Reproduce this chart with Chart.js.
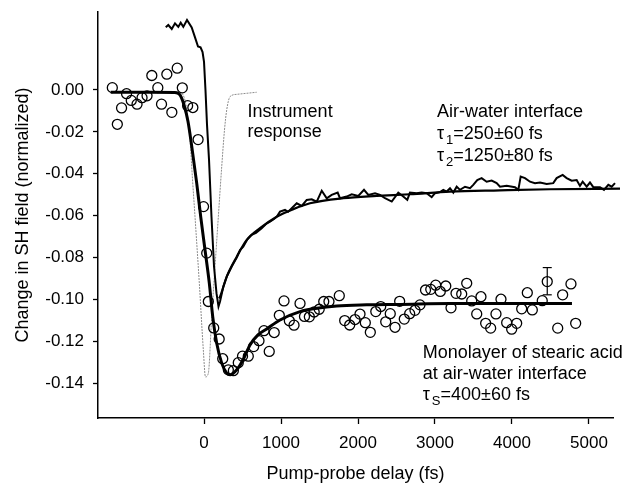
<!DOCTYPE html>
<html>
<head>
<meta charset="utf-8">
<script src="https://cdn.jsdelivr.net/npm/chart.js@4.4.1/dist/chart.umd.min.js"></script>
<style>
  html, body { margin: 0; padding: 0; background: #fff; }
</style>
</head>
<body>
<canvas id="canvas" width="632" height="483"></canvas>
<script>
// stearic acid monolayer, open circles (delay fs / normalized change)
const monoDelay = [-1191, -1126, -1071, -1006, -945, -870, -805, -740, -678, -600, -552, -483, -418, -348, -282, -213, -145, -77, -6, 35,
  56, 126, 197, 243, 316, 381, 445, 500, 575, 645, 714, 779, 847, 912, 978, 1039, 1108, 1169, 1247, 1305,
  1368, 1431, 1496, 1555, 1623, 1757, 1827, 1892, 1961, 2026, 2095, 2160, 2231, 2295, 2360, 2419, 2481, 2541, 2601, 2671,
  2740, 2805, 2877, 2945, 3009, 3069, 3140, 3208, 3273, 3347, 3412, 3477, 3542, 3597, 3658, 3723, 3792, 3857, 3931, 3996,
  4061, 4126, 4199, 4264, 4393, 4458, 4594, 4658, 4766, 4827];
const monoSignal = [0.0011, -0.0164, -0.0086, -0.0018, -0.0050, -0.0068, -0.0037, -0.0028, 0.0069, 0.0011, -0.0068, 0.0075, -0.0107, 0.0104, 0.0010, -0.0075, -0.0084, -0.0237, -0.0557, -0.0779,
  -0.1010, -0.1136, -0.1189, -0.1283, -0.1336, -0.1340, -0.1302, -0.1271, -0.1271, -0.1225, -0.1197, -0.1149, -0.1248, -0.1158, -0.1076, -0.1007, -0.1102, -0.1123, -0.1019, -0.1081,
  -0.1083, -0.1060, -0.1047, -0.1010, -0.1010, -0.0982, -0.1101, -0.1122, -0.1096, -0.1070, -0.1111, -0.1157, -0.1058, -0.1034, -0.1107, -0.1068, -0.1133, -0.1009, -0.1094, -0.1068,
  -0.1052, -0.1026, -0.0955, -0.0952, -0.0932, -0.0962, -0.0936, -0.1040, -0.0971, -0.0974, -0.0923, -0.1007, -0.1069, -0.0987, -0.1114, -0.1137, -0.1069, -0.0999, -0.1111, -0.1142,
  -0.1114, -0.1045, -0.0968, -0.1050, -0.1006, -0.0915, -0.1137, -0.0978, -0.0926, -0.1114];

// fit to the monolayer data (tau_S = 400 fs)
const monoFitDelay = [-1212, -701, -381, -312, -260, -208, -162, -95, -43, 13, 69, 113, 165, 230, 295, 338, 425, 506, 597, 701,
  814, 987, 1247, 1464, 1723, 2113, 2545, 3195, 3844, 4779];
const monoFitSignal = [-0.0011, -0.0011, -0.0012, -0.0024, -0.0072, -0.0151, -0.0263, -0.0445, -0.0605, -0.0764, -0.0923, -0.1082, -0.1209, -0.1304, -0.1352, -0.1360, -0.1336, -0.1289, -0.1217, -0.1169,
  -0.1141, -0.1098, -0.1058, -0.1042, -0.1031, -0.1026, -0.1024, -0.1020, -0.1020, -0.1020];

// error bar on one monolayer point
const errDelay = 4458;
const errLow = -0.0978;
const errHigh = -0.0848;

// neat air-water interface, measured trace
const waterDelay = [-497, -464, -419, -377, -334, -303, -269, -221, -160, -117, -78, -45, -19, 0, 19, 39, 65, 97, 130, 162,
  188, 208, 251, 299, 360, 425, 468, 510, 558, 619, 675, 749, 805, 857, 909, 944, 987, 1052, 1091, 1139,
  1204, 1269, 1334, 1399, 1464, 1529, 1594, 1658, 1736, 1766, 1853, 1918, 2004, 2078, 2134, 2221, 2286, 2351, 2438, 2523,
  2588, 2640, 2675, 2762, 2827, 2892, 2957, 3000, 3065, 3108, 3152, 3195, 3238, 3282, 3325, 3390, 3455, 3497, 3549, 3606,
  3671, 3736, 3801, 3844, 3931, 4039, 4082, 4113, 4169, 4234, 4299, 4364, 4451, 4536, 4580, 4658, 4710, 4775, 4840, 4883,
  4918, 4970, 5013, 5056, 5143, 5195, 5251, 5295, 5338, 5403];
const waterSignal = [0.0299, 0.0310, 0.0291, 0.0318, 0.0301, 0.0321, 0.0301, 0.0334, 0.0298, 0.0251, 0.0207, 0.0203, 0.0181, 0.0134, 0.0000, -0.0167, -0.0334, -0.0605, -0.0843, -0.0970,
  -0.1034, -0.1010, -0.0939, -0.0888, -0.0843, -0.0800, -0.0764, -0.0748, -0.0716, -0.0692, -0.0683, -0.0660, -0.0640, -0.0629, -0.0616, -0.0605, -0.0581, -0.0573, -0.0582, -0.0565,
  -0.0541, -0.0554, -0.0525, -0.0522, -0.0533, -0.0481, -0.0517, -0.0501, -0.0490, -0.0517, -0.0509, -0.0498, -0.0506, -0.0477, -0.0501, -0.0493, -0.0501, -0.0517, -0.0533, -0.0490,
  -0.0509, -0.0525, -0.0490, -0.0493, -0.0490, -0.0493, -0.0512, -0.0493, -0.0488, -0.0477, -0.0485, -0.0469, -0.0490, -0.0462, -0.0477, -0.0462, -0.0469, -0.0453, -0.0430, -0.0421,
  -0.0438, -0.0433, -0.0445, -0.0462, -0.0458, -0.0464, -0.0477, -0.0414, -0.0421, -0.0438, -0.0445, -0.0442, -0.0449, -0.0445, -0.0421, -0.0406, -0.0421, -0.0433, -0.0430, -0.0458,
  -0.0438, -0.0462, -0.0442, -0.0464, -0.0464, -0.0477, -0.0453, -0.0462, -0.0445, -0.0462];

// biexponential fit to the air-water trace
const waterFitDelay = [195, 208, 295, 425, 555, 727, 944, 1160, 1377, 1809, 2243, 2675, 3195, 3844, 4494, 5403];
const waterFitSignal = [-0.0995, -0.0987, -0.0891, -0.0796, -0.0716, -0.0660, -0.0605, -0.0569, -0.0541, -0.0517, -0.0506, -0.0498, -0.0485, -0.0479, -0.0474, -0.0471];

// instrument response (grey)
const irfDelay = [-400, -312, -234, -182, -149, -117, -61, -9, 19, 56, 100, 143, 186, 230, 266, 295, 338, 425, 555, 684];
const irfSignal = [-0.0010, -0.0012, -0.0072, -0.0239, -0.0430, -0.0605, -0.0923, -0.1241, -0.1370, -0.1352, -0.1082, -0.0843, -0.0605, -0.0366, -0.0191, -0.0095, -0.0032, -0.0021, -0.0016, -0.0011];

const xTicks = [0, 1000, 2000, 3000, 4000, 5000];
const yTicks = [-0.14, -0.12, -0.10, -0.08, -0.06, -0.04, -0.02, 0.00];

const pts = (xs, ys) => xs.map((x, i) => ({ x: x, y: ys[i] }));
const family = "'Liberation Sans', Arial, Helvetica, sans-serif";

// text labels, anchored in data units (left / baseline)
const notes = [
  { x: 566, y: -0.0127, parts: [["Instrument"]] },
  { x: 566, y: -0.0226, parts: [["response"]] },
  { x: 3026, y: -0.0129, parts: [["Air-water interface"]] },
  { x: 3026, y: -0.0234, parts: [["\u03c4"], ["1", "sub"], ["=250\u00b160 fs"]] },
  { x: 3026, y: -0.0339, parts: [["\u03c4"], ["2", "sub"], ["=1250\u00b180 fs"]] },
  { x: 2840, y: -0.1278, parts: [["Monolayer of stearic acid"]] },
  { x: 2840, y: -0.1381, parts: [["at air-water interface"]] },
  { x: 2840, y: -0.1480, parts: [["\u03c4"], ["S", "sub"], ["=400\u00b160 fs"]] },
];

const notePlugin = {
  id: "notes",
  afterDatasetsDraw(chart) {
    const { ctx, scales } = chart;
    ctx.save();
    ctx.fillStyle = "#000";
    ctx.textBaseline = "alphabetic";
    ctx.textAlign = "left";
    notes.forEach((n) => {
      let px = scales.x.getPixelForValue(n.x);
      const py = scales.y.getPixelForValue(n.y);
      n.parts.forEach((p) => {
        if (p[1] === "sub") {
          ctx.font = "13px " + family;
          px += 2;
          ctx.fillText(p[0], px, py + 5);
        } else {
          ctx.font = "18px " + family;
          ctx.fillText(p[0], px, py);
        }
        px += ctx.measureText(p[0]).width;
      });
    });
    ctx.restore();
  },
};

const chart = new Chart(document.getElementById("canvas"), {
  type: "scatter",
  data: {
    datasets: [
      {
        data: pts(monoDelay, monoSignal),
        pointStyle: "circle",
        pointRadius: 5,
        pointBorderWidth: 1.3,
        pointBorderColor: "#000",
        pointBackgroundColor: "rgba(0,0,0,0)",
        showLine: false,
      },
      {
        data: [{ x: errDelay, y: errLow }, { x: errDelay, y: errHigh }],
        showLine: true,
        borderColor: "#000",
        borderWidth: 1.2,
        pointStyle: "line",
        pointRadius: 4.5,
        pointBorderWidth: 1.2,
        pointBorderColor: "#000",
      },
      {
        data: pts(monoFitDelay, monoFitSignal),
        showLine: true,
        borderColor: "#000",
        borderWidth: 3,
        pointRadius: 0,
        cubicInterpolationMode: "monotone",
      },
      {
        data: pts(waterDelay, waterSignal),
        showLine: true,
        borderColor: "#000",
        borderWidth: 2,
        pointRadius: 0,
        tension: 0,
        clip: false,
      },
      {
        data: pts(waterFitDelay, waterFitSignal),
        showLine: true,
        borderColor: "#000",
        borderWidth: 2.2,
        pointRadius: 0,
        cubicInterpolationMode: "monotone",
        clip: false,
      },
      {
        data: pts(irfDelay, irfSignal),
        showLine: true,
        borderColor: "#8c8c8c",
        borderWidth: 1,
        borderDash: [2, 1],
        pointRadius: 0,
        cubicInterpolationMode: "monotone",
      },
    ],
  },
  options: {
    responsive: false,
    animation: false,
    devicePixelRatio: 1,
    layout: { padding: { top: 12, right: 19, left: 0, bottom: 0 } },
    plugins: { legend: { display: false }, tooltip: { enabled: false } },
    scales: {
      x: {
        type: "linear",
        min: -1377,
        max: 5312,
        afterBuildTicks: (s) => { s.ticks = xTicks.map((v) => ({ value: v })); },
        afterFit: (s) => { s.height = 65; s.paddingLeft = 0; s.paddingRight = 0; },
        grid: { drawOnChartArea: false, drawTicks: true, tickLength: 6, tickWidth: 1.3, tickColor: "#000" },
        border: { color: "#000", width: 1.5 },
        ticks: { color: "#000", font: { family: family, size: 17 }, padding: 9, maxRotation: 0, callback: (v) => String(v) },
        title: { display: true, text: "Pump-probe delay (fs)", color: "#000", font: { family: family, size: 18, lineHeight: 1 }, padding: { top: 0, bottom: 0 } },
      },
      y: {
        type: "linear",
        min: -0.1566,
        max: 0.0372,
        afterBuildTicks: (s) => { s.ticks = yTicks.map((v) => ({ value: v })); },
        afterFit: (s) => { s.width = 98; s.paddingTop = 0; s.paddingBottom = 0; },
        grid: { drawOnChartArea: false, drawTicks: true, tickLength: 5, tickWidth: 1.3, tickColor: "#000" },
        border: { color: "#000", width: 1.5 },
        ticks: { color: "#000", font: { family: family, size: 17 }, padding: 9, callback: (v) => v.toFixed(2) },
        title: { display: true, text: "Change in SH field (normalized)", color: "#000", font: { family: family, size: 18, lineHeight: 1 }, padding: { top: 14, bottom: 0 } },
      },
    },
  },
  plugins: [notePlugin],
});
</script>
</body>
</html>
